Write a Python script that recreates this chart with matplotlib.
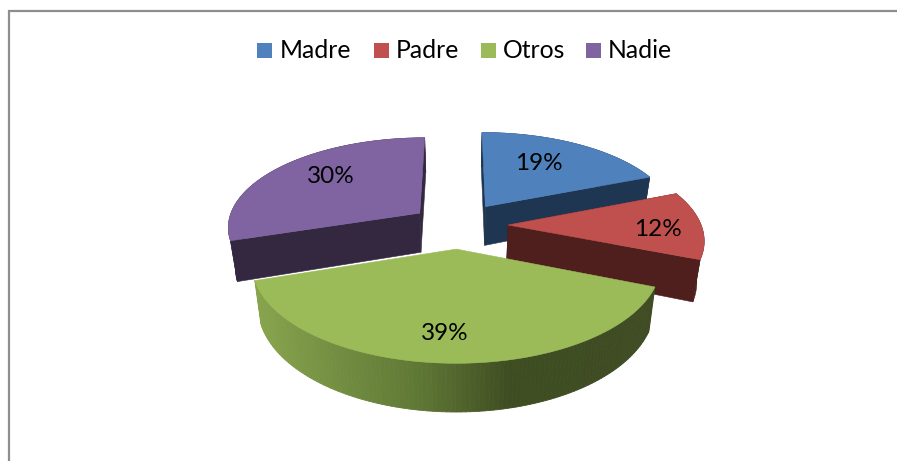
import numpy as np
import matplotlib
matplotlib.use("Agg")
import matplotlib.pyplot as plt
from matplotlib.patches import Polygon, Rectangle
from matplotlib.collections import PolyCollection
from matplotlib.colors import to_rgb

categories = ["Madre", "Padre", "Otros", "Nadie"]
values = [19, 12, 39, 30]
labels = ["19%", "12%", "39%", "30%"]

top_colors = ["#4F81BD", "#C0504D", "#9BBB59", "#8064A2"]
wall_colors = ["#1F3652", "#4E1F1D", None, "#342840"]
frame_color = "#8E8E8E"

# Projection of the pie plane onto the picture (pixels)
CX, CY = 456, 225
A, B, K = 193, 89.5, 0.14
EXPLODE = 0.27
HEIGHT = 40
BOTTOM_SCALE = 0.97
nudge_x = [1, 0, 2, 5]
nudge_y = [1, 0, -1, 2]
radius = [1.0, 1.0, 1.008, 1.0]

legend_square_x = [257, 374, 481, 586]
legend_text_x = [280, 396, 503, 608]
label_pos = [(539, 163), (658, 229), (445, 333), (331, 176)]

# Green outer wall shading, by picture x
shade_x = [255, 420, 510, 660]
shade_c = ["#87A44D", "#5F7735", "#3F4D22", "#3F4C24"]


def project(u, v, dx=0.0, dy=0.0, bottom=False):
    d = 1 + K * v
    s = BOTTOM_SCALE if bottom else 1.0
    x = CX + s * A * u / d + dx
    y = CY - B * v / d + dy
    if bottom:
        y = y + HEIGHT / d
    return np.column_stack([x, y])


fig = plt.figure(figsize=(8.97, 4.61), dpi=100)
ax = fig.add_axes([0, 0, 1, 1])
ax.set_xlim(0, 897)
ax.set_ylim(461, 0)
ax.axis("off")

ax.plot([8.5, 8.5, 897], [461, 11, 11], color=frame_color, lw=1.6, solid_joinstyle="miter")

total = sum(values)
edges = np.concatenate([[0], np.cumsum(values)]) / total * 2 * np.pi
slices = []
for i in range(len(values)):
    t0, t1 = edges[i], edges[i + 1]
    mid = (t0 + t1) / 2
    ou, ov = EXPLODE * np.sin(mid), EXPLODE * np.cos(mid)
    th = np.linspace(t0, t1, 120)
    slices.append((ou, ov, th))

for i in [0, 3, 1, 2]:
    ou, ov, th = slices[i]
    u, v = ou + radius[i] * np.sin(th), ov + radius[i] * np.cos(th)
    nx, ny = nudge_x[i], nudge_y[i]
    top = project(u, v, nx, ny)
    bot = project(u, v, nx, ny, bottom=True)
    apex_t = project(np.array([ou]), np.array([ov]), nx, ny)
    apex_b = project(np.array([ou]), np.array([ov]), nx, ny, bottom=True)

    if i == 2:
        polys, cols = [], []
        rgb = np.array([to_rgb(c) for c in shade_c])
        for j in range(len(th) - 1):
            polys.append([top[j], top[j + 1], bot[j + 1], bot[j]])
            xm = (top[j, 0] + top[j + 1, 0]) / 2
            cols.append([np.interp(xm, shade_x, rgb[:, c]) for c in range(3)])
        ax.add_collection(PolyCollection(polys, facecolors=cols, edgecolors=cols, linewidths=0.6))
    else:
        wc = wall_colors[i]
        for a, b in [(top[0], bot[0]), (top[-1], bot[-1])]:
            ax.add_patch(Polygon([apex_t[0], a, b, apex_b[0]], closed=True, fc=wc, ec=wc, lw=0.4))
        ax.add_patch(Polygon(np.vstack([top, bot[::-1]]), closed=True, fc=wc, ec=wc, lw=0.4))

    c = top_colors[i]
    ax.add_patch(Polygon(np.vstack([apex_t, top]), closed=True, fc=c, ec=c, lw=0.4))

font = ["Lato", "DejaVu Sans"]
for (x, y), s in zip(label_pos, labels):
    ax.text(x, y, s, ha="center", va="center", fontsize=17.5, color="black", family=font)

for sx, tx, name, c in zip(legend_square_x, legend_text_x, categories, top_colors):
    ax.add_patch(Rectangle((sx, 43), 15, 15, fc=c, ec="none"))
    ax.text(tx, 51, name, ha="left", va="center", fontsize=17.8, color="black", family=font)

fig.savefig("out.png", dpi=100)
